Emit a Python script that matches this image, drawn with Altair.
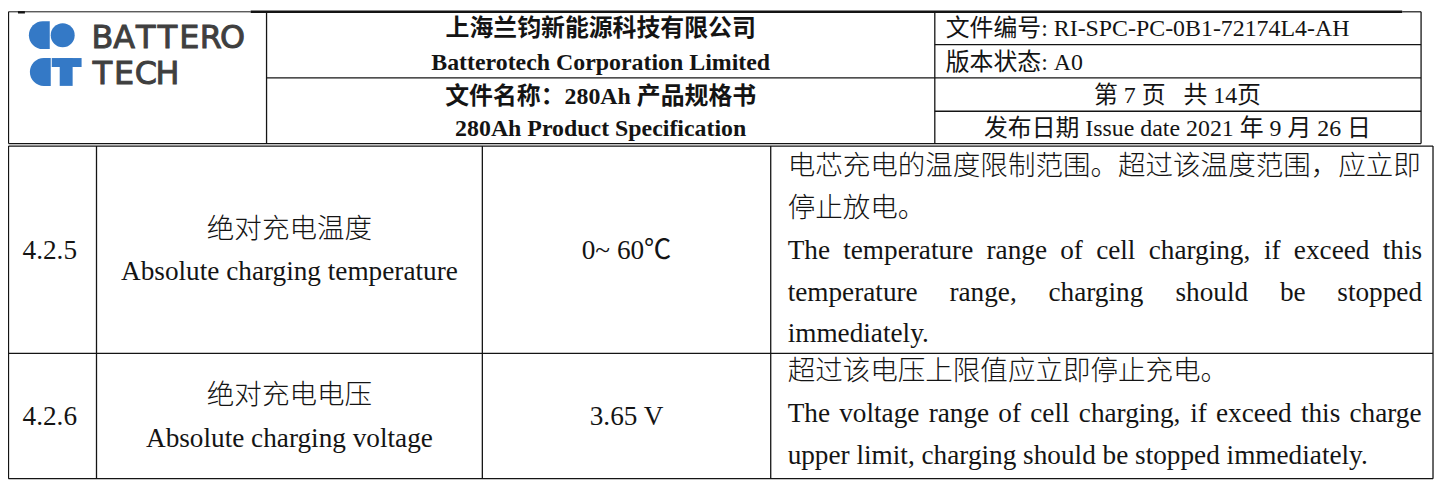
import altair as alt
import pandas as pd

# ---------------- content ----------------
logo_words = ["BATTERO", "TECH"]
header_mid_lines = ["上海兰钧新能源科技有限公司", "Batterotech Corporation Limited",
                    "文件名称：280Ah 产品规格书", "280Ah Product Specification"]
header_right_lines = ["文件编号: RI-SPC-PC-0B1-72174L4-AH", "版本状态: A0",
                      "第 7 页\u00a0\u00a0\u00a0共 14页", "发布日期 Issue date 2021 年 9 月 26 日"]
item_ids = ["4.2.5", "4.2.6"]
item_cn = ["绝对充电温度", "绝对充电电压"]
item_en = ["Absolute charging temperature", "Absolute charging voltage"]
item_values = ["0~ 60℃", "3.65 V"]
desc_cn = [["电芯充电的温度限制范围。超过该温度范围，应立即", "停止放电。"],
           ["超过该电压上限值应立即停止充电。"]]
desc_en = [["The temperature range of cell charging, if exceed this",
            "temperature range, charging should be stopped", "immediately."],
           ["The voltage range of cell charging, if exceed this charge",
            "upper limit, charging should be stopped immediately."]]
desc_en_justified = [[True, True, False], [True, False]]

# ---------------- layout (page pixels) ----------------
X0, X1 = 8, 1443
Y0, Y1 = 8, 481
W, H = X1 - X0, Y1 - Y0

head_x = [8.5, 268, 940, 1429]
head_top, head_bot = 10.5, 143
head_mid_split = 77
head_right_splits = [43.5, 77, 110.5]
body_x = [8.5, 97, 485, 775, 1441]
body_y = [145.5, 354, 480]

head_mid_y = [28, 62, 96, 128]
head_right_y = [28, 62, 95, 128]
id_x, name_x, val_x = 50, 291, 630
row_center_y = [251, 418]
name_cn_y = [230, 397]
name_en_y = [272, 440]
desc_left, desc_right = 792, 1430
desc_first_y = [167, 373]
line_step = 42

logo_left = 95
logo_pitch = 21.8
logo_baselines = [47, 83]

BODY_FS = 27.4
CJK_FS = 27.7
HEAD_FS = 24

BLUE = "#3479c6"
INK = "#141414"

xs = alt.Scale(domain=[X0, X1], nice=False, zero=False)
ys = alt.Scale(domain=[Y0, Y1], nice=False, zero=False, reverse=True)
X = alt.X("x:Q", scale=xs, axis=None)
Y = alt.Y("y:Q", scale=ys, axis=None)

# ---------------- table lines ----------------
lines = []
def seg(x, x2, y, y2, w=1.3):
    lines.append(dict(x=x, x2=x2, y=y, y2=y2, w=w))

seg(head_x[0], 252, head_top, head_top, 1.0)
seg(18, 25, head_top + 0.5, head_top + 0.5, 2.4)
seg(252, 1410, head_top, head_top, 2.6)
seg(1410, head_x[-1], head_top, head_top, 1.2)
seg(head_x[0], head_x[-1], head_bot, head_bot)
for hx in head_x:
    seg(hx, hx, head_top, head_bot)
seg(head_x[1], head_x[2], head_mid_split, head_mid_split)
for yy in head_right_splits:
    seg(head_x[2], head_x[3], yy, yy)
for yy in body_y:
    seg(body_x[0], body_x[-1], yy, yy)
for bx in body_x:
    seg(bx, bx, body_y[0], body_y[-1])

lines_df = pd.DataFrame(lines)
rules = alt.Chart(lines_df).mark_rule(color=INK).encode(
    x=X, x2="x2:Q", y=Y, y2="y2:Q",
    size=alt.Size("w:Q", scale=None, legend=None))

# ---------------- text helpers ----------------
TNR = {' ': 250, ',': 250, '.': 250, 'a': 444, 'b': 500, 'c': 444, 'd': 500, 'e': 444,
       'f': 333, 'g': 500, 'h': 500, 'i': 278, 'j': 278, 'k': 500, 'l': 278, 'm': 778,
       'n': 500, 'o': 500, 'p': 500, 'q': 500, 'r': 333, 's': 389, 't': 278, 'u': 500,
       'v': 500, 'w': 722, 'x': 500, 'y': 500, 'z': 444, 'T': 611}

def tw(s, fs):
    return sum(TNR.get(c, 500) for c in s) / 1000.0 * fs

def justify(line, y, just):
    words = line.split(" ")
    if not just or len(words) == 1:
        return [dict(t=line, x=desc_left, y=y)]
    widths = [tw(w, BODY_FS) for w in words]
    gap = (desc_right - desc_left - sum(widths)) / (len(words) - 1)
    out, x = [], desc_left
    for w, wd in zip(words, widths):
        out.append(dict(t=w, x=x, y=y))
        x += wd + gap
    return out

def text_layer(rows, font, size, weight="normal", align="center", color=INK, baseline="middle"):
    df = pd.DataFrame(rows)
    return alt.Chart(df).mark_text(font=font, fontSize=size, fontWeight=weight,
                                   align=align, baseline=baseline, color=color).encode(
        x=X, y=Y, text="t:N")

MIX = "Liberation Serif, Noto Sans CJK SC"

# header
head_mid_rows = [dict(t=t, x=604, y=y) for t, y in zip(header_mid_lines, head_mid_y)]
head_right_left = [dict(t=t, x=951, y=y) for t, y in zip(header_right_lines[:2], head_right_y[:2])]
head_right_center = [dict(t=t, x=1184, y=y) for t, y in zip(header_right_lines[2:], head_right_y[2:])]

# body
latin_center = []
for i in range(2):
    latin_center.append(dict(t=item_ids[i], x=id_x, y=row_center_y[i]))
    latin_center.append(dict(t=item_en[i], x=name_x, y=name_en_y[i]))
    latin_center.append(dict(t=item_values[i], x=val_x, y=row_center_y[i]))
cjk_center = [dict(t=item_cn[i], x=name_x, y=name_cn_y[i]) for i in range(2)]

cjk_left, latin_left = [], []
for r in range(2):
    y = desc_first_y[r]
    for t in desc_cn[r]:
        cjk_left.append(dict(t=t, x=desc_left, y=y))
        y += line_step
    for t, j in zip(desc_en[r], desc_en_justified[r]):
        latin_left.extend(justify(t, y, j))
        y += line_step

# ---------------- logo ----------------
d_rows = pd.DataFrame(dict(x=[43, 44], y=[34, 71], s=[784, 784]))
logo_d = alt.Chart(d_rows).mark_point(
    shape="M 0.5 -1 L 0 -1 A 1 1 0 0 0 0 1 L 0.5 1 Z", filled=True, color=BLUE,
    opacity=1, strokeWidth=0).encode(x=X, y=Y, size=alt.Size("s:Q", scale=None, legend=None))
logo_o = alt.Chart(pd.DataFrame(dict(x=[63], y=[34]))).mark_circle(
    size=580, color=BLUE, opacity=1).encode(x=X, y=Y)
logo_t = alt.Chart(pd.DataFrame(dict(x=[52, 60], x2=[82, 73], y=[57, 57], y2=[66, 85]))).mark_rect(
    color=BLUE).encode(x=X, x2="x2:Q", y=Y, y2="y2:Q")

letters = []
for word, base in zip(logo_words, logo_baselines):
    for k, ch in enumerate(word):
        letters.append(dict(t=ch, x=logo_left + 8 + k * logo_pitch, y=base))
logo_text = alt.Chart(pd.DataFrame(letters)).mark_text(
    font="DejaVu Sans", fontSize=32, align="center", baseline="alphabetic",
    color="#3f3f3f", stroke="#3f3f3f", strokeWidth=1.0).encode(x=X, y=Y, text="t:N")

chart = alt.layer(
    rules,
    logo_d, logo_o, logo_t, logo_text,
    text_layer(head_mid_rows, MIX, HEAD_FS, weight="bold"),
    text_layer(head_right_left, MIX, HEAD_FS, align="left"),
    text_layer(head_right_center, MIX, HEAD_FS),
    text_layer(latin_center, "Liberation Serif, Noto Sans CJK SC", BODY_FS),
    text_layer(cjk_center, "Noto Sans CJK SC", CJK_FS, weight=300),
    text_layer(cjk_left, "Noto Sans CJK SC", CJK_FS, weight=300, align="left"),
    text_layer(latin_left, "Liberation Serif", BODY_FS, align="left"),
).properties(
    width=W, height=H, padding=0, background="white",
    autosize=alt.AutoSizeParams(type="none"),
).configure_view(stroke=None)

chart.save("out.html", embed_options={"renderer": "svg", "actions": False})
